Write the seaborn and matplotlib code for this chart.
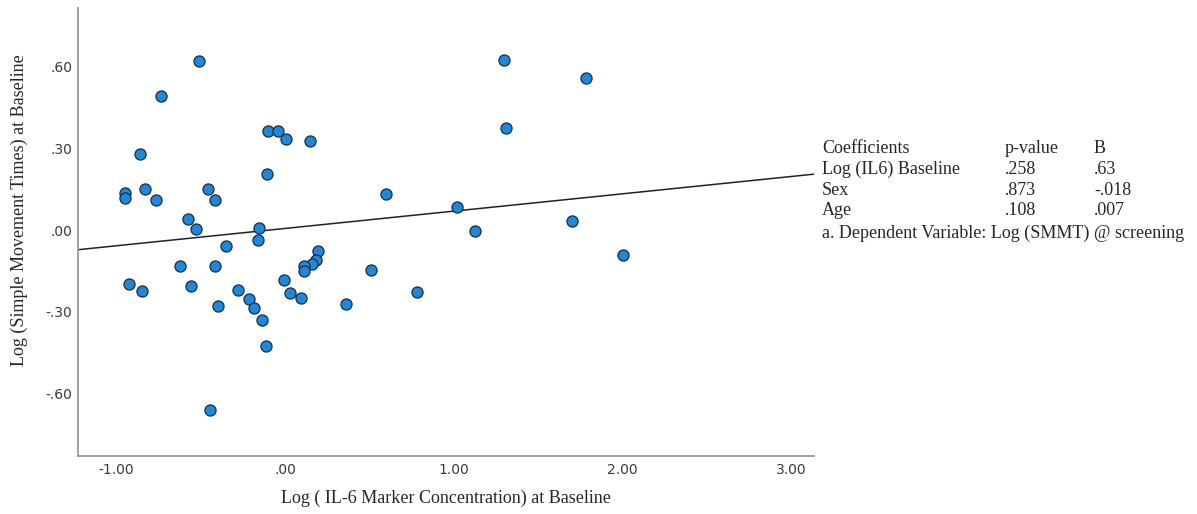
import numpy as np
import pandas as pd
import matplotlib
matplotlib.use("Agg")
import matplotlib.pyplot as plt
import seaborn as sns

# Log IL-6 marker concentration at baseline (x) and log simple movement times (y)
il6_log = [
    -0.508, -0.733, -0.860, -0.950, -0.947, -0.828, -0.765, -0.458, -0.413, -0.573,
    -0.529, -0.350, -0.101, -0.043, 0.008, 0.148, -0.108, 0.597, -0.152, -0.162,
    0.194, 0.182, 0.160, 0.114, 0.114, -0.622, -0.417, 0.510, -0.925, -0.846,
    -0.559, -0.004, 0.028, 0.093, -0.280, -0.213, -0.182, -0.399, -0.135, -0.111,
    0.362, -0.445, 0.782, 1.296, 1.782, 1.312, 1.018, 1.128, 1.701, 2.002,
]
smt_log = [
    0.622, 0.492, 0.281, 0.135, 0.117, 0.152, 0.112, 0.150, 0.110, 0.039,
    0.004, -0.060, 0.364, 0.364, 0.335, 0.326, 0.207, 0.133, 0.007, -0.035,
    -0.078, -0.109, -0.125, -0.133, -0.152, -0.133, -0.133, -0.147, -0.200, -0.224,
    -0.206, -0.182, -0.231, -0.251, -0.219, -0.252, -0.287, -0.279, -0.332, -0.428,
    -0.271, -0.662, -0.228, 0.624, 0.560, 0.375, 0.084, -0.002, 0.035, -0.093,
]

# Fit line (intercept, slope)
fit_intercept = 0.006
fit_slope = 0.0637

x_ticks = [-1.0, 0.0, 1.0, 2.0, 3.0]
x_tick_labels = ["-1.00", ".00", "1.00", "2.00", "3.00"]
y_ticks = [-0.6, -0.3, 0.0, 0.3, 0.6]
y_tick_labels = ["-.60", "-.30", ".00", ".30", ".60"]

table_header = ["Coefficients", "p-value", "B"]
table_terms = ["Log (IL6) Baseline", "Sex", "Age"]
table_p = [".258", ".873", ".108"]
table_b = [".63", "-.018", ".007"]
table_note = "a. Dependent Variable: Log (SMMT) @ screening"

sns.set_style("white")
plt.rcParams["font.family"] = ["Liberation Serif", "DejaVu Serif"]

df = pd.DataFrame({"il6": il6_log, "smt": smt_log})

W, H = 1197, 514
fig = plt.figure(figsize=(W / 100, H / 100), dpi=100)
ax = fig.add_axes([78 / W, 1 - 456 / H, 736 / W, 448 / H])

xlim = (-1.227, 3.136)
ylim = (-0.831, 0.817)

xs = np.array(xlim)
ax.plot(xs, fit_intercept + fit_slope * xs, color="#222222", lw=1.1, zorder=1)

sns.scatterplot(data=df, x="il6", y="smt", ax=ax, s=64, color="#1E88DB",
                edgecolor="#1b2b3c", linewidth=0.9, zorder=3)

ax.set_xlim(*xlim)
ax.set_ylim(*ylim)
ax.set_xticks(x_ticks)
ax.set_xticklabels(x_tick_labels)
ax.set_yticks(y_ticks)
ax.set_yticklabels(y_tick_labels)
for lab in ax.get_xticklabels() + ax.get_yticklabels():
    lab.set_family(["DejaVu Sans"])
    lab.set_fontsize(10)
    lab.set_color("#3a3a3a")
ax.tick_params(axis="x", length=0, pad=5)
ax.tick_params(axis="y", length=0, pad=4.3)

for side in ["top", "right"]:
    ax.spines[side].set_visible(False)
for side in ["left", "bottom"]:
    ax.spines[side].set_color("#9a9a9a")
    ax.spines[side].set_linewidth(1.3)

ax.set_xlabel("Log ( IL-6 Marker Concentration) at Baseline", fontsize=13)
ax.set_ylabel("Log (Simple Movement Times) at Baseline", fontsize=13)
ax.xaxis.set_label_coords(0.5, -0.076)
ax.yaxis.set_label_coords(-0.068, 0.549)

# Coefficients table beside the plot
col_x = [822 / W, 1005 / W, 1094 / W]
row_base = [153, 174, 195, 215]
for cx, txt in zip(col_x, table_header):
    fig.text(cx, 1 - row_base[0] / H, txt, fontsize=13, va="baseline", ha="left")
for i, (term, p, b) in enumerate(zip(table_terms, table_p, table_b)):
    yy = 1 - row_base[i + 1] / H
    fig.text(col_x[0], yy, term, fontsize=13, va="baseline", ha="left")
    fig.text(col_x[1], yy, p, fontsize=13, va="baseline", ha="left")
    fig.text(col_x[2], yy, b, fontsize=13, va="baseline", ha="left")
fig.text(col_x[0], 1 - 238 / H, table_note, fontsize=13, va="baseline", ha="left")

fig.savefig("out.png", dpi=100)
